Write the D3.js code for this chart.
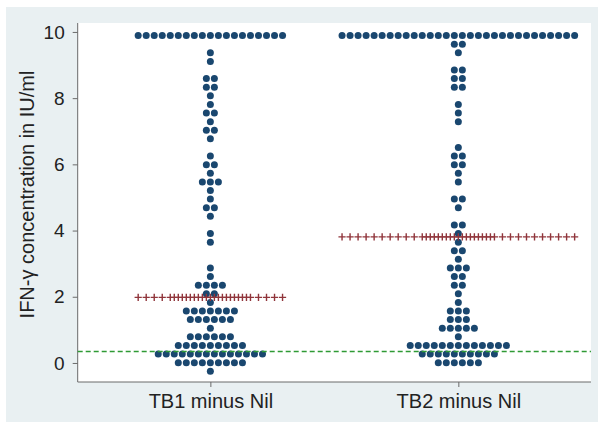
<!DOCTYPE html>
<html>
<head>
<meta charset="utf-8">
<script src="https://cdn.jsdelivr.net/npm/d3@7"></script>
<style>
  html, body { margin: 0; padding: 0; background: #fff; }
  svg { display: block; font-family: "Liberation Sans", Arial, sans-serif; }
</style>
</head>
<body>
<div id="chart"></div>
<script>
// Groups on the x axis
const groups = ["TB1 minus Nil", "TB2 minus Nil"];

// Dot rows: bin value (IU/ml) and number of dots in that row
const tb1Bins   = [9.89, 9.37, 9.11, 8.59, 8.33, 8.07, 7.81, 7.55, 7.29, 7.03, 6.77, 6.25, 5.99, 5.73, 5.47, 5.21, 4.95, 4.69, 4.43, 3.91, 3.65, 2.87, 2.61, 2.35, 2.09, 1.83, 1.57, 1.31, 1.05, 0.79, 0.53, 0.27, 0.01, -0.25];
const tb1Counts = [19,   1,    1,    2,    2,    1,    1,    2,    1,    2,    1,    1,    2,    1,    3,    1,    1,    2,    1,    1,    1,    1,    1,    4,    2,    1,    7,    6,    1,    6,    9,    14,   9,    1];

const tb2Bins   = [9.89, 9.63, 9.37, 8.85, 8.59, 8.33, 7.81, 7.55, 7.29, 6.51, 6.25, 5.99, 5.73, 5.47, 4.95, 4.69, 4.17, 3.91, 3.65, 3.39, 3.13, 2.87, 2.61, 2.35, 2.09, 1.83, 1.57, 1.31, 1.05, 0.79, 0.53, 0.27, 0.01];
const tb2Counts = [30,   2,    1,    2,    2,    2,    1,    1,    1,    1,    2,    2,    1,    1,    2,    1,    2,    1,    1,    2,    1,    3,    2,    2,    1,    1,    3,    3,    5,    1,    13,   10,   6];

// Median of each group (line of pluses) and the 0.35 IU/ml cut-off
const medians = [1.98, 3.81];
const cutoff = 0.35;

const yTicks = [0, 2, 4, 6, 8, 10];

const width = 600, height = 424;
const plot = { left: 77.7, right: 591, top: 23, bottom: 382 };
const dotStep = 8.02;   // horizontal distance between dots, px
const dotR = 3.5;

const svg = d3.select("#chart").append("svg")
    .attr("width", width)
    .attr("height", height);

// Graph region background
svg.append("rect")
    .attr("x", 6).attr("y", 7)
    .attr("width", 592).attr("height", 415)
    .attr("fill", "#e9f0f2");

// Plot region
svg.append("rect")
    .attr("x", plot.left).attr("y", plot.top)
    .attr("width", plot.right - plot.left)
    .attr("height", plot.bottom - plot.top)
    .attr("fill", "#ffffff");

const x = d3.scaleLinear().domain([0.465, 2.535]).range([plot.left, plot.right]);
const y = d3.scaleLinear().domain([-0.575, 10.27]).range([plot.bottom, plot.top]);

// Axes
const yAxis = svg.append("g")
    .attr("transform", `translate(${plot.left},0)`)
    .call(d3.axisLeft(y).tickValues(yTicks).tickSize(5).tickPadding(8).tickFormat(d3.format("d")));

const xAxis = svg.append("g")
    .attr("transform", `translate(0,${plot.bottom})`)
    .call(d3.axisBottom(x).tickValues([1, 2]).tickSize(5).tickPadding(7)
        .tickFormat((d, i) => groups[i]));

[yAxis, xAxis].forEach(a => {
    a.select(".domain").attr("stroke", "#6b6b6b").attr("stroke-width", 1);
    a.selectAll(".tick line").attr("stroke", "#6b6b6b");
    a.selectAll(".tick text").attr("fill", "#222").style("font-size", "19px");
});
xAxis.selectAll(".tick text").style("font-size", "20px");
// keep domain path straight (no outer ticks)
yAxis.select(".domain").attr("d", `M0,${plot.bottom}V${plot.top}`);
xAxis.select(".domain").attr("d", `M${plot.left},0H${plot.right}`);

// Y axis title
svg.append("text")
    .attr("transform", `translate(33.5,${194.5}) rotate(-90)`)
    .attr("text-anchor", "middle")
    .attr("fill", "#222")
    .style("font-size", "20px")
    .text("IFN-\u03b3 concentration in IU/ml");

// Dots
const series = [
    { bins: tb1Bins, counts: tb1Counts },
    { bins: tb2Bins, counts: tb2Counts }
];

series.forEach((s, gi) => {
    const cx = x(gi + 1);
    const pts = [];
    s.bins.forEach((v, r) => {
        const n = s.counts[r];
        for (let i = 0; i < n; i++) {
            pts.push({ x: cx + (i - (n - 1) / 2) * dotStep, y: y(v) });
        }
    });
    svg.append("g").selectAll("circle")
        .data(pts)
        .enter().append("circle")
        .attr("cx", d => d.x)
        .attr("cy", d => d.y)
        .attr("r", dotR)
        .attr("fill", "#1a476f");
});

// Cut-off line
svg.append("line")
    .attr("x1", plot.left).attr("x2", plot.right)
    .attr("y1", y(cutoff)).attr("y2", y(cutoff))
    .attr("stroke", "#2f9a35")
    .attr("stroke-width", 1.5)
    .attr("stroke-dasharray", "5,3");

// Median lines made of pluses
series.forEach((s, gi) => {
    const cx = x(gi + 1);
    const w = d3.max(s.counts);
    const offs = [];
    for (let i = 0; i < w; i++) offs.push(i - (w - 1) / 2);
    // denser pluses near the centre, on the other half-grid
    const shift = w % 2 === 1 ? 0.5 : 0;
    for (let k = -5; k <= 5; k++) {
        const o = k + shift;
        if (Math.abs(o) <= 4.5 && (o !== 0 || shift === 0) && !offs.includes(o)) offs.push(o);
    }
    const my = y(medians[gi]);
    svg.append("g").selectAll("path")
        .data(offs)
        .enter().append("path")
        .attr("d", o => {
            const px = cx + o * dotStep;
            return `M${px - 3.6},${my}H${px + 3.6}M${px},${my - 3.6}V${my + 3.6}`;
        })
        .attr("stroke", "#90353b")
        .attr("stroke-width", 1.4)
        .attr("fill", "none");
});
</script>
</body>
</html>
